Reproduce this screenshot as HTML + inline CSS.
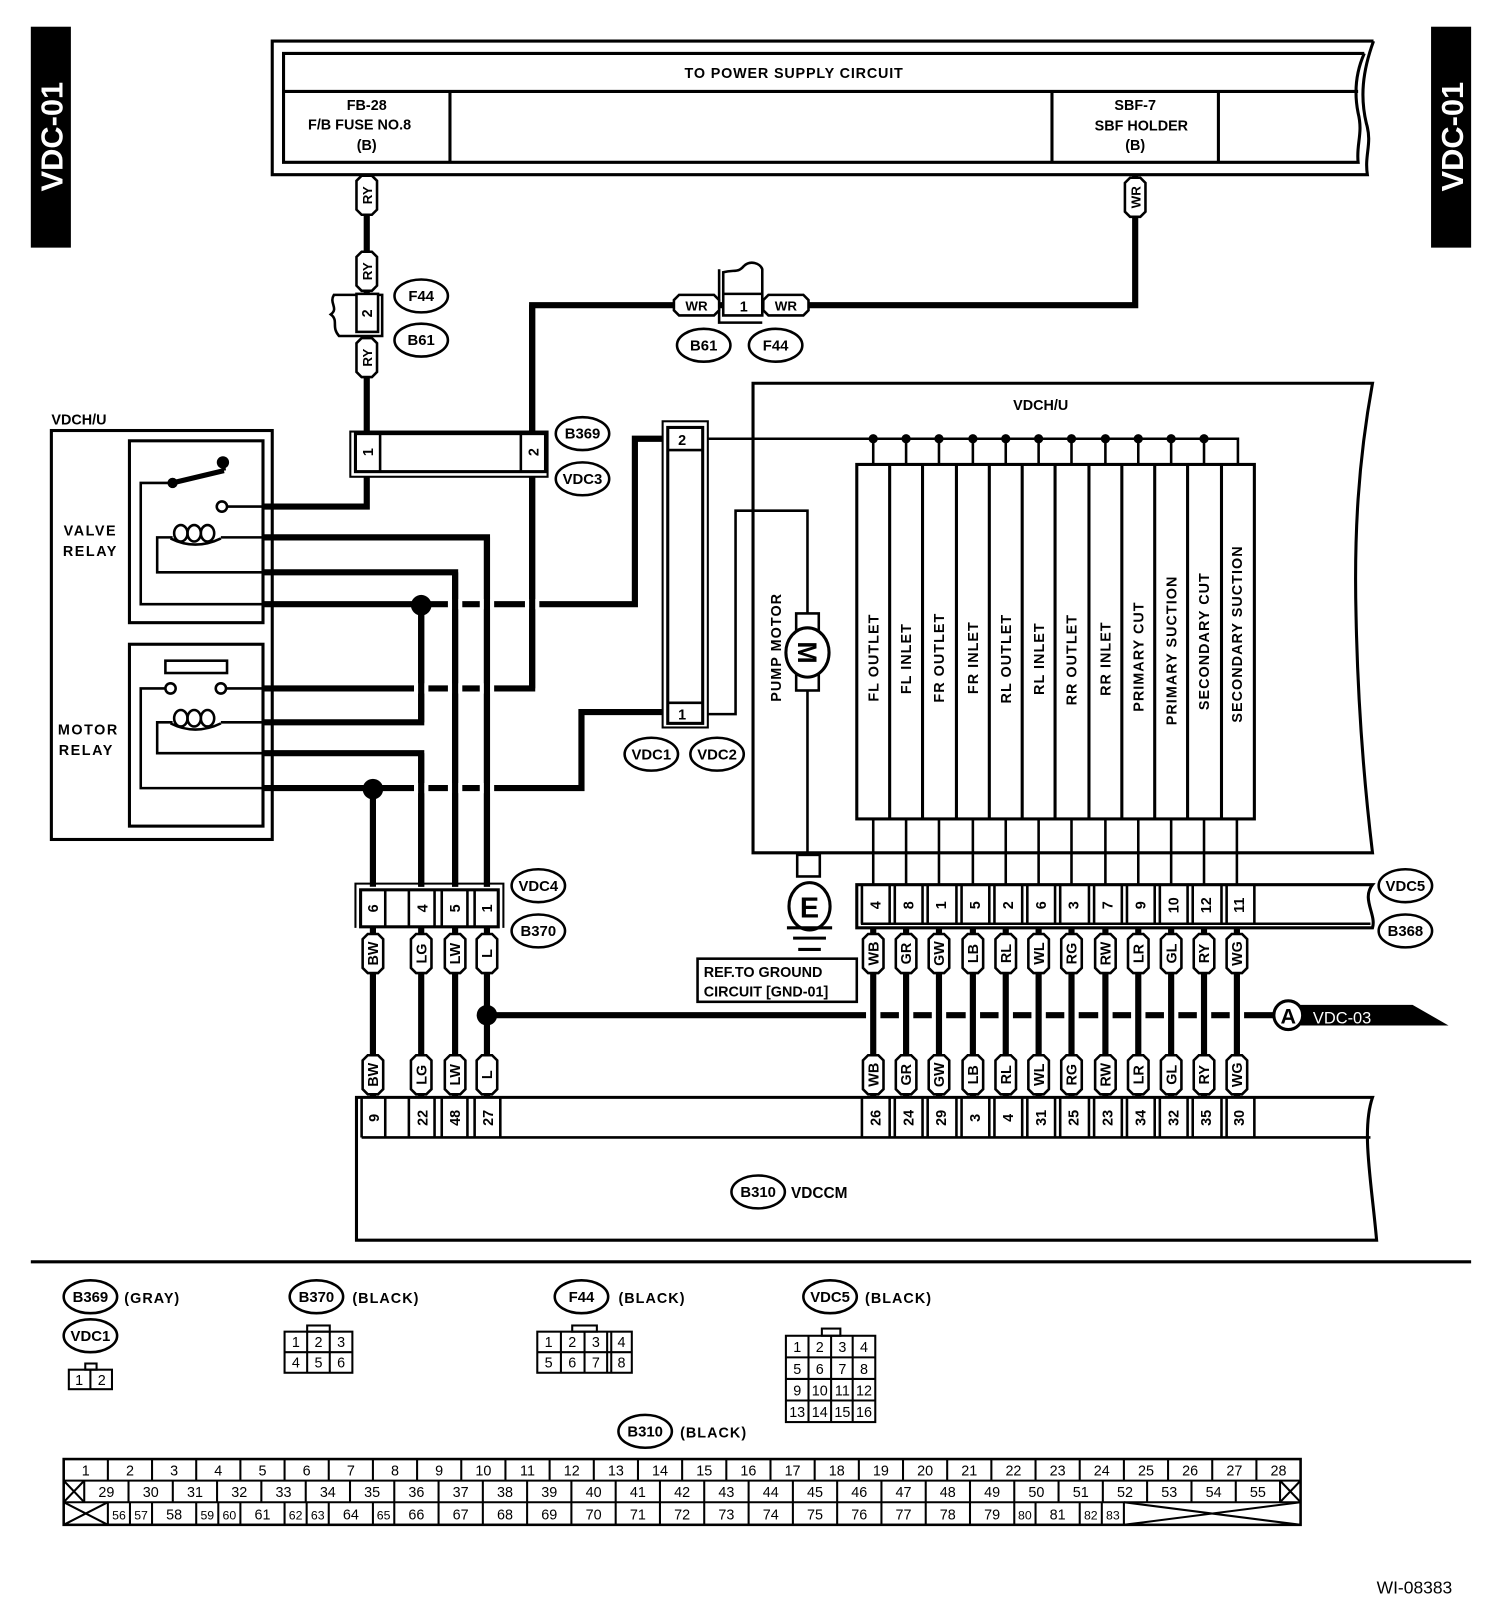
<!DOCTYPE html>
<html><head><meta charset="utf-8"><style>
html,body{margin:0;padding:0;background:#fff}
svg{display:block}
text{font-family:"Liberation Sans",sans-serif;font-weight:bold;font-size:14px;fill:#000}
.n{font-family:"Liberation Sans Narrow","Liberation Sans",sans-serif;font-weight:normal;font-size:14px}
.o{font-size:14.5px}
</style></head><body>
<svg width="1504" height="1606" viewBox="0 0 1464 1563" preserveAspectRatio="none" xmlns="http://www.w3.org/2000/svg">
<defs>
<path id="vl" d="M-10,-14L-5,-19H5L10,-14V14L5,19H-5L-10,14Z" fill="#fff" stroke="#000" stroke-width="2.5"/>
<path id="hl" d="M-22,-5L-17,-10H17L22,-5V5L17,10H-17L-22,5Z" fill="#fff" stroke="#000" stroke-width="2.5"/>
<ellipse id="ov" rx="26" ry="16" fill="#fff" stroke="#000" stroke-width="2.5"/>
</defs>
<rect width="1464" height="1563" fill="#fff"/>

<rect x="30" y="26" width="39" height="215" fill="#000"/>
<text transform="translate(61,133) rotate(-90)" text-anchor="middle" style="font-size:30px;fill:#fff">VDC-01</text>
<rect x="1393" y="26" width="39" height="215" fill="#000"/>
<text transform="translate(1424,133) rotate(-90)" text-anchor="middle" style="font-size:30px;fill:#fff">VDC-01</text>

<g fill="none" stroke="#000" stroke-width="3">
<path d="M1337,40 H265 V170 H1331 C1328,150 1336,140 1330,120 C1324,95 1326,70 1337,40"/>
<path d="M1328,52 H276 V158 H1322 C1320,140 1327,130 1322,110 C1318,90 1320,70 1328,52"/>
<line x1="276" y1="89" x2="1322" y2="89"/>
<line x1="438" y1="89" x2="438" y2="158"/>
<line x1="1024" y1="89" x2="1024" y2="158"/>
<line x1="1186" y1="89" x2="1186" y2="158"/>
</g>
<text x="773" y="76" text-anchor="middle" style="letter-spacing:0.8px">TO POWER SUPPLY CIRCUIT</text>
<text x="357" y="107" text-anchor="middle">FB-28</text>
<text x="350" y="126" text-anchor="middle">F/B FUSE NO.8</text>
<text x="357" y="146" text-anchor="middle">(B)</text>
<text x="1105" y="107" text-anchor="middle">SBF-7</text>
<text x="1111" y="127" text-anchor="middle">SBF HOLDER</text>
<text x="1105" y="146" text-anchor="middle">(B)</text>

<g fill="none" stroke="#000" stroke-width="6">
<path d="M357,170 V493 H255"/>
<path d="M1105,170 V297 H518 V670 H255"/>
<path d="M255,523 H474 V863"/>
<path d="M255,557 H443 V863"/>
<path d="M255,588 H618 V427 H650"/>
<path d="M410,588 V703 H255"/>
<path d="M255,733 H410 V863"/>
<path d="M255,767 H566 V693 H650"/>
<path d="M363,767 V863"/>
<path d="M474,988 H1240"/>
</g>
<g fill="#fff">
<rect x="436" y="583" width="14" height="10"/><rect x="467" y="583" width="14" height="10"/><rect x="511" y="583" width="14" height="10"/>
<rect x="403" y="665" width="14" height="10"/><rect x="436" y="665" width="14" height="10"/><rect x="467" y="665" width="14" height="10"/>
<rect x="403" y="762" width="14" height="10"/><rect x="436" y="762" width="14" height="10"/><rect x="467" y="762" width="14" height="10"/>
<rect x="843" y="983" width="14" height="10"/><rect x="875" y="983" width="14" height="10"/><rect x="907" y="983" width="14" height="10"/><rect x="940" y="983" width="14" height="10"/><rect x="972" y="983" width="14" height="10"/><rect x="1004" y="983" width="14" height="10"/><rect x="1036" y="983" width="14" height="10"/><rect x="1069" y="983" width="14" height="10"/><rect x="1101" y="983" width="14" height="10"/><rect x="1133" y="983" width="14" height="10"/><rect x="1165" y="983" width="14" height="10"/><rect x="1197" y="983" width="14" height="10"/>
</g>
<g fill="none" stroke="#000" stroke-width="6">
<line x1="443" y1="557" x2="443" y2="863"/>
<line x1="474" y1="523" x2="474" y2="863"/>
<line x1="518" y1="297" x2="518" y2="670"/>
<line x1="410" y1="588" x2="410" y2="703"/>
<line x1="410" y1="733" x2="410" y2="863"/>
<line x1="363" y1="900" x2="363" y2="1068"/>
<line x1="410" y1="900" x2="410" y2="1068"/>
<line x1="443" y1="900" x2="443" y2="1068"/>
<line x1="474" y1="900" x2="474" y2="1068"/>
<line x1="850" y1="900" x2="850" y2="1068"/><line x1="882" y1="900" x2="882" y2="1068"/><line x1="914" y1="900" x2="914" y2="1068"/><line x1="947" y1="900" x2="947" y2="1068"/><line x1="979" y1="900" x2="979" y2="1068"/><line x1="1011" y1="900" x2="1011" y2="1068"/><line x1="1043" y1="900" x2="1043" y2="1068"/><line x1="1076" y1="900" x2="1076" y2="1068"/><line x1="1108" y1="900" x2="1108" y2="1068"/><line x1="1140" y1="900" x2="1140" y2="1068"/><line x1="1172" y1="900" x2="1172" y2="1068"/><line x1="1204" y1="900" x2="1204" y2="1068"/>
</g>
<circle cx="410" cy="589" r="10"/>
<circle cx="363" cy="768" r="10"/>
<circle cx="474" cy="988" r="10"/>

<text x="50" y="413">VDCH/U</text>
<g fill="none" stroke="#000" stroke-width="3">
<rect x="50" y="419" width="215" height="398"/>
<rect x="126" y="429" width="130" height="177"/>
<rect x="126" y="627" width="130" height="177"/>
</g>
<g fill="none" stroke="#000" stroke-width="2.5">
<path d="M255,588 H137 V470 H168"/>
<line x1="168" y1="470" x2="218" y2="458" stroke-width="5"/>
<line x1="218" y1="458" x2="217" y2="450" stroke-width="4"/>
<circle cx="216" cy="493" r="5" fill="#fff"/>
<line x1="221" y1="493" x2="255" y2="493"/>
<path d="M255,523 H215"/><path d="M168,523 H153 V557 H255"/>
<ellipse cx="176" cy="519" rx="6.5" ry="8"/><ellipse cx="189" cy="519" rx="6.5" ry="8"/><ellipse cx="202" cy="519" rx="6.5" ry="8"/>
<path d="M166,524 Q190,536 215,524"/>
<rect x="161" y="643" width="60" height="12"/>
<circle cx="166" cy="670" r="5" fill="#fff"/><circle cx="215" cy="670" r="5" fill="#fff"/>
<path d="M161,670 H137 V767 H255"/>
<line x1="220" y1="670" x2="255" y2="670"/>
<path d="M255,703 H215"/><path d="M168,703 H153 V733 H255"/>
<ellipse cx="176" cy="699" rx="6.5" ry="8"/><ellipse cx="189" cy="699" rx="6.5" ry="8"/><ellipse cx="202" cy="699" rx="6.5" ry="8"/>
<path d="M166,704 Q190,716 215,704"/>
</g>
<circle cx="168" cy="470" r="5"/>
<circle cx="217" cy="450" r="6"/>
<text x="88" y="521" text-anchor="middle" style="letter-spacing:1.5px">VALVE</text>
<text x="88" y="541" text-anchor="middle" style="letter-spacing:1.5px">RELAY</text>
<text x="86" y="715" text-anchor="middle" style="letter-spacing:1.5px">MOTOR</text>
<text x="84" y="735" text-anchor="middle" style="letter-spacing:1.5px">RELAY</text>

<g fill="none" stroke="#000" stroke-width="2.5">
<path d="M372,287 H325 C320,295 330,300 322,306 C330,312 322,318 330,327 H372 Z" fill="#fff"/>
<rect x="347" y="286" width="21" height="37" fill="#fff"/>
</g>
<text transform="translate(357,305) rotate(-90)" text-anchor="middle" dy="5">2</text>
<use href="#vl" x="357" y="190"/><text transform="translate(357,190) rotate(-90)" text-anchor="middle" dy="5" style="font-size:13px">RY</text>
<use href="#vl" x="357" y="264"/><text transform="translate(357,264) rotate(-90)" text-anchor="middle" dy="5" style="font-size:13px">RY</text>
<use href="#vl" x="357" y="348"/><text transform="translate(357,348) rotate(-90)" text-anchor="middle" dy="5" style="font-size:13px">RY</text>
<use href="#ov" x="410" y="288"/><text class="o" x="410" y="293" text-anchor="middle">F44</text>
<use href="#ov" x="410" y="331"/><text class="o" x="410" y="336" text-anchor="middle">B61</text>

<g fill="none" stroke="#000" stroke-width="2.5">
<path d="M700,262 V314 H742"/>
<path d="M704,307 V265 C715,262 718,266 724,259 C730,253 740,256 742,262 V307 Z" fill="#fff"/>
<line x1="704" y1="286" x2="742" y2="286"/>
</g>
<text x="724" y="303" text-anchor="middle">1</text>
<use href="#hl" x="678" y="297"/><text x="678" y="302" text-anchor="middle" style="font-size:13px">WR</text>
<use href="#hl" x="765" y="297"/><text x="765" y="302" text-anchor="middle" style="font-size:13px">WR</text>
<use href="#vl" x="1105" y="192"/><text transform="translate(1105,192) rotate(-90)" text-anchor="middle" dy="5" style="font-size:13px">WR</text>
<use href="#ov" x="685" y="336"/><text class="o" x="685" y="341" text-anchor="middle">B61</text>
<use href="#ov" x="755" y="336"/><text class="o" x="755" y="341" text-anchor="middle">F44</text>

<g fill="#fff" stroke="#000">
<rect x="341" y="420" width="192" height="44" stroke-width="2"/>
<rect x="346" y="422" width="185" height="37" stroke-width="3"/>
</g>
<line x1="370" y1="422" x2="370" y2="459" stroke="#000" stroke-width="2.5"/>
<line x1="507" y1="422" x2="507" y2="459" stroke="#000" stroke-width="2.5"/>
<text transform="translate(358,440) rotate(-90)" text-anchor="middle" dy="5">1</text>
<text transform="translate(519,440) rotate(-90)" text-anchor="middle" dy="5">2</text>
<use href="#ov" x="567" y="422"/><text class="o" x="567" y="427" text-anchor="middle">B369</text>
<use href="#ov" x="567" y="466"/><text class="o" x="567" y="471" text-anchor="middle">VDC3</text>

<path d="M733,830 V373 H1336 C1322,450 1318,520 1320,600 C1322,700 1330,780 1336,830 Z" fill="none" stroke="#000" stroke-width="3"/>
<text x="1013" y="399" text-anchor="middle">VDCH/U</text>
<g fill="none" stroke="#000" stroke-width="2.5">
<path d="M684,427 H1205 V452"/>
<path d="M684,695 H716 V497 H786 V832"/>
<path d="M850,427V452M882,427V452M914,427V452M947,427V452M979,427V452M1011,427V452M1043,427V452M1076,427V452M1108,427V452M1140,427V452M1172,427V452"/>
<path d="M850,797V863M882,797V863M914,797V863M947,797V863M979,797V863M1011,797V863M1043,797V863M1076,797V863M1108,797V863M1140,797V863M1172,797V863M1204,797V863"/>
</g>
<g>
<circle cx="850" cy="427" r="4.5"/><circle cx="882" cy="427" r="4.5"/><circle cx="914" cy="427" r="4.5"/><circle cx="947" cy="427" r="4.5"/><circle cx="979" cy="427" r="4.5"/><circle cx="1011" cy="427" r="4.5"/><circle cx="1043" cy="427" r="4.5"/><circle cx="1076" cy="427" r="4.5"/><circle cx="1108" cy="427" r="4.5"/><circle cx="1140" cy="427" r="4.5"/><circle cx="1172" cy="427" r="4.5"/>
</g>
<g fill="none" stroke="#000" stroke-width="3">
<rect x="834" y="452" width="387" height="345"/>
<path d="M866,452V797M898,452V797M931,452V797M963,452V797M995,452V797M1027,452V797M1060,452V797M1092,452V797M1124,452V797M1156,452V797M1189,452V797"/>
</g>
<g style="letter-spacing:1px">
<text transform="translate(855,640) rotate(-90)" text-anchor="middle">FL OUTLET</text>
<text transform="translate(887,641) rotate(-90)" text-anchor="middle">FL INLET</text>
<text transform="translate(919,640) rotate(-90)" text-anchor="middle">FR OUTLET</text>
<text transform="translate(952,640) rotate(-90)" text-anchor="middle">FR INLET</text>
<text transform="translate(984,641) rotate(-90)" text-anchor="middle">RL OUTLET</text>
<text transform="translate(1016,641) rotate(-90)" text-anchor="middle">RL INLET</text>
<text transform="translate(1048,642) rotate(-90)" text-anchor="middle">RR OUTLET</text>
<text transform="translate(1081,641) rotate(-90)" text-anchor="middle">RR INLET</text>
<text transform="translate(1113,639) rotate(-90)" text-anchor="middle">PRIMARY CUT</text>
<text transform="translate(1145,633) rotate(-90)" text-anchor="middle">PRIMARY SUCTION</text>
<text transform="translate(1177,624) rotate(-90)" text-anchor="middle">SECONDARY CUT</text>
<text transform="translate(1209,617) rotate(-90)" text-anchor="middle">SECONDARY SUCTION</text>
</g>

<g fill="#fff" stroke="#000">
<rect x="645" y="410" width="44" height="298" stroke-width="2"/>
<rect x="650" y="416" width="34" height="288" stroke-width="3"/>
</g>
<path d="M650,438H684M650,684H684" stroke="#000" stroke-width="2.5"/>
<text x="664" y="433" text-anchor="middle">2</text>
<text x="664" y="700" text-anchor="middle">1</text>
<use href="#ov" x="634" y="734"/><text class="o" x="634" y="739" text-anchor="middle">VDC1</text>
<use href="#ov" x="698" y="734"/><text class="o" x="698" y="739" text-anchor="middle">VDC2</text>

<rect x="775" y="597" width="22" height="75" fill="#fff" stroke="#000" stroke-width="2.5"/>
<ellipse cx="786" cy="635" rx="21" ry="24" fill="#fff" stroke="#000" stroke-width="3"/>
<text transform="translate(786,635) rotate(90)" text-anchor="middle" dy="9" style="font-size:26px">M</text>
<text transform="translate(760,630) rotate(-90)" text-anchor="middle" style="letter-spacing:1px">PUMP MOTOR</text>

<rect x="776" y="832" width="22" height="21" fill="#fff" stroke="#000" stroke-width="2.5"/>
<ellipse cx="788" cy="882" rx="20" ry="23" fill="#fff" stroke="#000" stroke-width="3"/>
<text x="788" y="893" text-anchor="middle" style="font-size:28px">E</text>
<path d="M766,903H810M772,913H804M777,924H799" stroke="#000" stroke-width="3"/>
<rect x="679" y="933" width="155" height="42" fill="#fff" stroke="#000" stroke-width="2.5"/>
<text x="685" y="951">REF.TO GROUND</text>
<text x="685" y="970">CIRCUIT [GND-01]</text>

<path d="M834,903 V861 H1336 C1325,875 1340,890 1336,903 Z" fill="#fff" stroke="#000" stroke-width="3"/>
<line x1="838" y1="899" x2="1334" y2="899" stroke="#000" stroke-width="2.5"/>
<path d="M839,861V899M866,861V899M871,861V899M898,861V899M903,861V899M931,861V899M936,861V899M963,861V899M968,861V899M995,861V899M1000,861V899M1027,861V899M1032,861V899M1060,861V899M1065,861V899M1092,861V899M1097,861V899M1124,861V899M1129,861V899M1156,861V899M1161,861V899M1189,861V899M1194,861V899M1221,861V899" stroke="#000" stroke-width="2.5"/>
<g>
<text transform="translate(852,881) rotate(-90)" text-anchor="middle" dy="5">4</text>
<text transform="translate(884,881) rotate(-90)" text-anchor="middle" dy="5">8</text>
<text transform="translate(916,881) rotate(-90)" text-anchor="middle" dy="5">1</text>
<text transform="translate(949,881) rotate(-90)" text-anchor="middle" dy="5">5</text>
<text transform="translate(981,881) rotate(-90)" text-anchor="middle" dy="5">2</text>
<text transform="translate(1013,881) rotate(-90)" text-anchor="middle" dy="5">6</text>
<text transform="translate(1045,881) rotate(-90)" text-anchor="middle" dy="5">3</text>
<text transform="translate(1078,881) rotate(-90)" text-anchor="middle" dy="5">7</text>
<text transform="translate(1110,881) rotate(-90)" text-anchor="middle" dy="5">9</text>
<text transform="translate(1142,881) rotate(-90)" text-anchor="middle" dy="5">10</text>
<text transform="translate(1174,881) rotate(-90)" text-anchor="middle" dy="5">12</text>
<text transform="translate(1206,881) rotate(-90)" text-anchor="middle" dy="5">11</text>
</g>
<use href="#ov" x="1368" y="862"/><text class="o" x="1368" y="867" text-anchor="middle">VDC5</text>
<use href="#ov" x="1368" y="906"/><text class="o" x="1368" y="911" text-anchor="middle">B368</text>

<path d="M346,903 V860 H490 V903" fill="none" stroke="#000" stroke-width="2"/>
<rect x="351" y="866" width="134" height="36" fill="#fff" stroke="#000" stroke-width="3"/>
<path d="M375,866V902M398,866V902M423,866V902M430,866V902M455,866V902M462,866V902" stroke="#000" stroke-width="2.5"/>
<text transform="translate(363,884) rotate(-90)" text-anchor="middle" dy="5">6</text>
<text transform="translate(411,884) rotate(-90)" text-anchor="middle" dy="5">4</text>
<text transform="translate(443,884) rotate(-90)" text-anchor="middle" dy="5">5</text>
<text transform="translate(474,884) rotate(-90)" text-anchor="middle" dy="5">1</text>
<use href="#ov" x="524" y="862"/><text class="o" x="524" y="867" text-anchor="middle">VDC4</text>
<use href="#ov" x="524" y="906"/><text class="o" x="524" y="911" text-anchor="middle">B370</text>

<g style="font-size:13px">
<use href="#vl" x="363" y="928"/><text transform="translate(363,928) rotate(-90)" text-anchor="middle" dy="5">BW</text>
<use href="#vl" x="410" y="928"/><text transform="translate(410,928) rotate(-90)" text-anchor="middle" dy="5">LG</text>
<use href="#vl" x="443" y="928"/><text transform="translate(443,928) rotate(-90)" text-anchor="middle" dy="5">LW</text>
<use href="#vl" x="474" y="928"/><text transform="translate(474,928) rotate(-90)" text-anchor="middle" dy="5">L</text>
<use href="#vl" x="363" y="1046"/><text transform="translate(363,1046) rotate(-90)" text-anchor="middle" dy="5">BW</text>
<use href="#vl" x="410" y="1046"/><text transform="translate(410,1046) rotate(-90)" text-anchor="middle" dy="5">LG</text>
<use href="#vl" x="443" y="1046"/><text transform="translate(443,1046) rotate(-90)" text-anchor="middle" dy="5">LW</text>
<use href="#vl" x="474" y="1046"/><text transform="translate(474,1046) rotate(-90)" text-anchor="middle" dy="5">L</text>

<use href="#vl" x="850" y="928"/><text transform="translate(850,928) rotate(-90)" text-anchor="middle" dy="5">WB</text>
<use href="#vl" x="882" y="928"/><text transform="translate(882,928) rotate(-90)" text-anchor="middle" dy="5">GR</text>
<use href="#vl" x="914" y="928"/><text transform="translate(914,928) rotate(-90)" text-anchor="middle" dy="5">GW</text>
<use href="#vl" x="947" y="928"/><text transform="translate(947,928) rotate(-90)" text-anchor="middle" dy="5">LB</text>
<use href="#vl" x="979" y="928"/><text transform="translate(979,928) rotate(-90)" text-anchor="middle" dy="5">RL</text>
<use href="#vl" x="1011" y="928"/><text transform="translate(1011,928) rotate(-90)" text-anchor="middle" dy="5">WL</text>
<use href="#vl" x="1043" y="928"/><text transform="translate(1043,928) rotate(-90)" text-anchor="middle" dy="5">RG</text>
<use href="#vl" x="1076" y="928"/><text transform="translate(1076,928) rotate(-90)" text-anchor="middle" dy="5">RW</text>
<use href="#vl" x="1108" y="928"/><text transform="translate(1108,928) rotate(-90)" text-anchor="middle" dy="5">LR</text>
<use href="#vl" x="1140" y="928"/><text transform="translate(1140,928) rotate(-90)" text-anchor="middle" dy="5">GL</text>
<use href="#vl" x="1172" y="928"/><text transform="translate(1172,928) rotate(-90)" text-anchor="middle" dy="5">RY</text>
<use href="#vl" x="1204" y="928"/><text transform="translate(1204,928) rotate(-90)" text-anchor="middle" dy="5">WG</text>

<use href="#vl" x="850" y="1046"/><text transform="translate(850,1046) rotate(-90)" text-anchor="middle" dy="5">WB</text>
<use href="#vl" x="882" y="1046"/><text transform="translate(882,1046) rotate(-90)" text-anchor="middle" dy="5">GR</text>
<use href="#vl" x="914" y="1046"/><text transform="translate(914,1046) rotate(-90)" text-anchor="middle" dy="5">GW</text>
<use href="#vl" x="947" y="1046"/><text transform="translate(947,1046) rotate(-90)" text-anchor="middle" dy="5">LB</text>
<use href="#vl" x="979" y="1046"/><text transform="translate(979,1046) rotate(-90)" text-anchor="middle" dy="5">RL</text>
<use href="#vl" x="1011" y="1046"/><text transform="translate(1011,1046) rotate(-90)" text-anchor="middle" dy="5">WL</text>
<use href="#vl" x="1043" y="1046"/><text transform="translate(1043,1046) rotate(-90)" text-anchor="middle" dy="5">RG</text>
<use href="#vl" x="1076" y="1046"/><text transform="translate(1076,1046) rotate(-90)" text-anchor="middle" dy="5">RW</text>
<use href="#vl" x="1108" y="1046"/><text transform="translate(1108,1046) rotate(-90)" text-anchor="middle" dy="5">LR</text>
<use href="#vl" x="1140" y="1046"/><text transform="translate(1140,1046) rotate(-90)" text-anchor="middle" dy="5">GL</text>
<use href="#vl" x="1172" y="1046"/><text transform="translate(1172,1046) rotate(-90)" text-anchor="middle" dy="5">RY</text>
<use href="#vl" x="1204" y="1046"/><text transform="translate(1204,1046) rotate(-90)" text-anchor="middle" dy="5">WG</text>
</g>

<path d="M1262,978 H1375 L1410,998 H1262 Z" fill="#000"/>
<circle cx="1254" cy="988" r="14" fill="#fff" stroke="#000" stroke-width="3"/>
<text x="1254" y="996" text-anchor="middle" style="font-size:21px">A</text>
<text x="1278" y="996" style="fill:#fff;font-weight:normal;font-size:16px">VDC-03</text>

<path d="M347,1207 V1068 H1336 C1325,1100 1335,1150 1340,1207 Z" fill="none" stroke="#000" stroke-width="3"/>
<line x1="352" y1="1107" x2="1334" y2="1107" stroke="#000" stroke-width="2.5"/>
<path d="M352,1068V1107M375,1068V1107M398,1068V1107M423,1068V1107M430,1068V1107M455,1068V1107M462,1068V1107M487,1068V1107" stroke="#000" stroke-width="2.5"/>
<path d="M839,1068V1107M866,1068V1107M871,1068V1107M898,1068V1107M903,1068V1107M931,1068V1107M936,1068V1107M963,1068V1107M968,1068V1107M995,1068V1107M1000,1068V1107M1027,1068V1107M1032,1068V1107M1060,1068V1107M1065,1068V1107M1092,1068V1107M1097,1068V1107M1124,1068V1107M1129,1068V1107M1156,1068V1107M1161,1068V1107M1189,1068V1107M1194,1068V1107M1221,1068V1107" stroke="#000" stroke-width="2.5"/>
<g>
<text transform="translate(364,1088) rotate(-90)" text-anchor="middle" dy="5">9</text>
<text transform="translate(411,1088) rotate(-90)" text-anchor="middle" dy="5">22</text>
<text transform="translate(443,1088) rotate(-90)" text-anchor="middle" dy="5">48</text>
<text transform="translate(475,1088) rotate(-90)" text-anchor="middle" dy="5">27</text>
<text transform="translate(852,1088) rotate(-90)" text-anchor="middle" dy="5">26</text>
<text transform="translate(884,1088) rotate(-90)" text-anchor="middle" dy="5">24</text>
<text transform="translate(916,1088) rotate(-90)" text-anchor="middle" dy="5">29</text>
<text transform="translate(949,1088) rotate(-90)" text-anchor="middle" dy="5">3</text>
<text transform="translate(981,1088) rotate(-90)" text-anchor="middle" dy="5">4</text>
<text transform="translate(1013,1088) rotate(-90)" text-anchor="middle" dy="5">31</text>
<text transform="translate(1045,1088) rotate(-90)" text-anchor="middle" dy="5">25</text>
<text transform="translate(1078,1088) rotate(-90)" text-anchor="middle" dy="5">23</text>
<text transform="translate(1110,1088) rotate(-90)" text-anchor="middle" dy="5">34</text>
<text transform="translate(1142,1088) rotate(-90)" text-anchor="middle" dy="5">32</text>
<text transform="translate(1174,1088) rotate(-90)" text-anchor="middle" dy="5">35</text>
<text transform="translate(1206,1088) rotate(-90)" text-anchor="middle" dy="5">30</text>
</g>
<use href="#ov" x="738" y="1160"/><text class="o" x="738" y="1165" text-anchor="middle">B310</text>
<text x="770" y="1166" style="font-size:15px">VDCCM</text>

<line x1="30" y1="1228" x2="1432" y2="1228" stroke="#000" stroke-width="3"/>

<use href="#ov" x="88" y="1262"/><text class="o" x="88" y="1267" text-anchor="middle">B369</text>
<text x="121" y="1268" style="letter-spacing:1px">(GRAY)</text>
<use href="#ov" x="88" y="1300"/><text class="o" x="88" y="1305" text-anchor="middle">VDC1</text>
<g fill="none" stroke="#000" stroke-width="2">
<rect x="67" y="1333" width="42" height="19"/><line x1="88" y1="1333" x2="88" y2="1352"/><rect x="83" y="1327" width="11" height="6"/>
<rect x="277" y="1296" width="66" height="40"/><path d="M299,1296V1336M321,1296V1336M277,1316H343"/><rect x="299" y="1290" width="22" height="6"/>
<rect x="523" y="1296" width="92" height="40"/><path d="M546,1296V1336M569,1296V1336M591,1296V1336M595,1296V1336M523,1316H615"/><rect x="557" y="1290" width="24" height="6"/>
<rect x="765" y="1300" width="87" height="84"/><path d="M787,1300V1384M809,1300V1384M830,1300V1384M765,1321H852M765,1342H852M765,1363H852"/><rect x="800" y="1293" width="18" height="7"/>
</g>
<g class="n">
<text class="n" x="77" y="1348" text-anchor="middle">1</text><text class="n" x="99" y="1348" text-anchor="middle">2</text>
<text class="n" x="288" y="1311" text-anchor="middle">1</text><text class="n" x="310" y="1311" text-anchor="middle">2</text><text class="n" x="332" y="1311" text-anchor="middle">3</text>
<text class="n" x="288" y="1331" text-anchor="middle">4</text><text class="n" x="310" y="1331" text-anchor="middle">5</text><text class="n" x="332" y="1331" text-anchor="middle">6</text>
<text class="n" x="534" y="1311" text-anchor="middle">1</text><text class="n" x="557" y="1311" text-anchor="middle">2</text><text class="n" x="580" y="1311" text-anchor="middle">3</text><text class="n" x="605" y="1311" text-anchor="middle">4</text>
<text class="n" x="534" y="1331" text-anchor="middle">5</text><text class="n" x="557" y="1331" text-anchor="middle">6</text><text class="n" x="580" y="1331" text-anchor="middle">7</text><text class="n" x="605" y="1331" text-anchor="middle">8</text>
<text class="n" x="776" y="1316" text-anchor="middle">1</text><text class="n" x="798" y="1316" text-anchor="middle">2</text><text class="n" x="820" y="1316" text-anchor="middle">3</text><text class="n" x="841" y="1316" text-anchor="middle">4</text>
<text class="n" x="776" y="1337" text-anchor="middle">5</text><text class="n" x="798" y="1337" text-anchor="middle">6</text><text class="n" x="820" y="1337" text-anchor="middle">7</text><text class="n" x="841" y="1337" text-anchor="middle">8</text>
<text class="n" x="776" y="1358" text-anchor="middle">9</text><text class="n" x="798" y="1358" text-anchor="middle">10</text><text class="n" x="820" y="1358" text-anchor="middle">11</text><text class="n" x="841" y="1358" text-anchor="middle">12</text>
<text class="n" x="776" y="1379" text-anchor="middle">13</text><text class="n" x="798" y="1379" text-anchor="middle">14</text><text class="n" x="820" y="1379" text-anchor="middle">15</text><text class="n" x="841" y="1379" text-anchor="middle">16</text>
</g>
<use href="#ov" x="308" y="1262"/><text class="o" x="308" y="1267" text-anchor="middle">B370</text>
<text x="343" y="1268" style="letter-spacing:1px">(BLACK)</text>
<use href="#ov" x="566" y="1262"/><text class="o" x="566" y="1267" text-anchor="middle">F44</text>
<text x="602" y="1268" style="letter-spacing:1px">(BLACK)</text>
<use href="#ov" x="808" y="1262"/><text class="o" x="808" y="1267" text-anchor="middle">VDC5</text>
<text x="842" y="1268" style="letter-spacing:1px">(BLACK)</text>
<use href="#ov" x="628" y="1393"/><text class="o" x="628" y="1398" text-anchor="middle">B310</text>
<text x="662" y="1399" style="letter-spacing:1px">(BLACK)</text>

<g fill="none" stroke="#000" stroke-width="2">
<rect x="62" y="1420" width="1204" height="64" stroke-width="2.5"/>
<path d="M62,1441H1266M62,1462H1266"/>
<path d="M105,1420V1441M148,1420V1441M191,1420V1441M234,1420V1441M277,1420V1441M320,1420V1441M363,1420V1441M406,1420V1441M449,1420V1441M492,1420V1441M535,1420V1441M578,1420V1441M621,1420V1441M664,1420V1441M707,1420V1441M750,1420V1441M793,1420V1441M836,1420V1441M879,1420V1441M922,1420V1441M965,1420V1441M1008,1420V1441M1051,1420V1441M1094,1420V1441M1137,1420V1441M1180,1420V1441M1223,1420V1441"/>
<path d="M82,1441V1462M125.1,1441V1462M168.2,1441V1462M211.3,1441V1462M254.4,1441V1462M297.6,1441V1462M340.7,1441V1462M383.8,1441V1462M426.9,1441V1462M470,1441V1462M513.1,1441V1462M556.2,1441V1462M599.3,1441V1462M642.4,1441V1462M685.5,1441V1462M728.7,1441V1462M771.8,1441V1462M814.9,1441V1462M858,1441V1462M901.1,1441V1462M944.2,1441V1462M987.3,1441V1462M1030.4,1441V1462M1073.5,1441V1462M1116.6,1441V1462M1159.8,1441V1462M1202.9,1441V1462M1246,1441V1462"/>
<path d="M105,1462V1484M126.5,1462V1484M148,1462V1484M191,1462V1484M212.5,1462V1484M234,1462V1484M277,1462V1484M298.5,1462V1484M320,1462V1484M363,1462V1484M383.8,1462V1484M426.9,1462V1484M470,1462V1484M513.1,1462V1484M556.2,1462V1484M599.3,1462V1484M642.4,1462V1484M685.5,1462V1484M728.7,1462V1484M771.8,1462V1484M814.9,1462V1484M858,1462V1484M901.1,1462V1484M944.2,1462V1484M987.3,1462V1484M1008,1462V1484M1051,1462V1484M1072.5,1462V1484M1094,1462V1484"/>
<path d="M62,1441L82,1462M82,1441L62,1462M1246,1441L1266,1462M1266,1441L1246,1462M62,1462L105,1484M105,1462L62,1484M1094,1462L1266,1484M1266,1462L1094,1484"/>
</g>
<g class="n" text-anchor="middle">
<text class="n" x="83.5" y="1436">1</text><text class="n" x="126.5" y="1436">2</text><text class="n" x="169.5" y="1436">3</text><text class="n" x="212.5" y="1436">4</text><text class="n" x="255.5" y="1436">5</text><text class="n" x="298.5" y="1436">6</text><text class="n" x="341.5" y="1436">7</text><text class="n" x="384.5" y="1436">8</text><text class="n" x="427.5" y="1436">9</text><text class="n" x="470.5" y="1436">10</text><text class="n" x="513.5" y="1436">11</text><text class="n" x="556.5" y="1436">12</text><text class="n" x="599.5" y="1436">13</text><text class="n" x="642.5" y="1436">14</text><text class="n" x="685.5" y="1436">15</text><text class="n" x="728.5" y="1436">16</text><text class="n" x="771.5" y="1436">17</text><text class="n" x="814.5" y="1436">18</text><text class="n" x="857.5" y="1436">19</text><text class="n" x="900.5" y="1436">20</text><text class="n" x="943.5" y="1436">21</text><text class="n" x="986.5" y="1436">22</text><text class="n" x="1029.5" y="1436">23</text><text class="n" x="1072.5" y="1436">24</text><text class="n" x="1115.5" y="1436">25</text><text class="n" x="1158.5" y="1436">26</text><text class="n" x="1201.5" y="1436">27</text><text class="n" x="1244.5" y="1436">28</text>
<text class="n" x="103.6" y="1457">29</text><text class="n" x="146.7" y="1457">30</text><text class="n" x="189.8" y="1457">31</text><text class="n" x="232.9" y="1457">32</text><text class="n" x="276" y="1457">33</text><text class="n" x="319.1" y="1457">34</text><text class="n" x="362.2" y="1457">35</text><text class="n" x="405.3" y="1457">36</text><text class="n" x="448.4" y="1457">37</text><text class="n" x="491.6" y="1457">38</text><text class="n" x="534.7" y="1457">39</text><text class="n" x="577.8" y="1457">40</text><text class="n" x="620.9" y="1457">41</text><text class="n" x="664" y="1457">42</text><text class="n" x="707.1" y="1457">43</text><text class="n" x="750.2" y="1457">44</text><text class="n" x="793.3" y="1457">45</text><text class="n" x="836.4" y="1457">46</text><text class="n" x="879.5" y="1457">47</text><text class="n" x="922.6" y="1457">48</text><text class="n" x="965.7" y="1457">49</text><text class="n" x="1008.8" y="1457">50</text><text class="n" x="1052" y="1457">51</text><text class="n" x="1095.1" y="1457">52</text><text class="n" x="1138.2" y="1457">53</text><text class="n" x="1181.3" y="1457">54</text><text class="n" x="1224.4" y="1457">55</text>
<text class="n" x="115.8" y="1479" style="font-size:12px">56</text><text class="n" x="137.3" y="1479" style="font-size:12px">57</text><text class="n" x="169.5" y="1479">58</text><text class="n" x="201.8" y="1479" style="font-size:12px">59</text><text class="n" x="223.3" y="1479" style="font-size:12px">60</text><text class="n" x="255.5" y="1479">61</text><text class="n" x="287.8" y="1479" style="font-size:12px">62</text><text class="n" x="309.3" y="1479" style="font-size:12px">63</text><text class="n" x="341.5" y="1479">64</text><text class="n" x="373.4" y="1479" style="font-size:12px">65</text><text class="n" x="405.3" y="1479">66</text><text class="n" x="448.4" y="1479">67</text><text class="n" x="491.6" y="1479">68</text><text class="n" x="534.7" y="1479">69</text><text class="n" x="577.8" y="1479">70</text><text class="n" x="620.9" y="1479">71</text><text class="n" x="664" y="1479">72</text><text class="n" x="707.1" y="1479">73</text><text class="n" x="750.2" y="1479">74</text><text class="n" x="793.3" y="1479">75</text><text class="n" x="836.4" y="1479">76</text><text class="n" x="879.5" y="1479">77</text><text class="n" x="922.6" y="1479">78</text><text class="n" x="965.7" y="1479">79</text><text class="n" x="997.6" y="1479" style="font-size:12px">80</text><text class="n" x="1029.5" y="1479">81</text><text class="n" x="1061.8" y="1479" style="font-size:12px">82</text><text class="n" x="1083.3" y="1479" style="font-size:12px">83</text>
</g>

<text x="1340" y="1551" style="font-weight:normal;font-size:17px">WI-08383</text>
</svg>
</body></html>
